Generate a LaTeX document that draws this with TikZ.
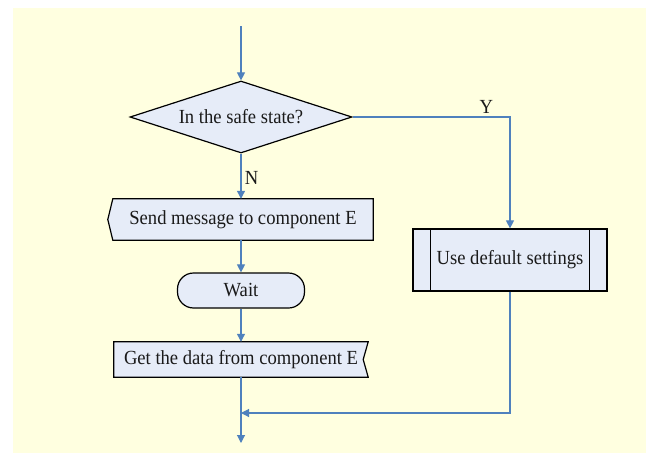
\documentclass[tikz,border=0pt]{standalone}
\usepackage{fontspec}
\setmainfont{Liberation Serif}[FakeStretch=0.93]
\usetikzlibrary{arrows.meta,shapes.geometric}
\pgfdeclarelayer{back}
\pgfdeclarelayer{shapes}
\pgfsetlayers{back,shapes,main}

\definecolor{paper}{HTML}{FFFFE0}
\definecolor{boxfill}{HTML}{E6ECF8}
\definecolor{flow}{HTML}{4F81BD}
\definecolor{ink}{HTML}{1A1A1A}

\tikzset{
  label text/.style={font=\fontsize{20}{24}\selectfont, text=ink},
  outline/.style={draw=black, line width=1.2pt, fill=boxfill, line join=miter},
  flowline/.style={draw=flow, line width=1.1pt},
  arr/.style={flowline, -{Triangle[length=8pt,width=8pt]}},
}

\begin{document}
\begin{tikzpicture}[x=1pt,y=-1pt]
\useasboundingbox (0,0) rectangle (646,453);
\begin{pgfonlayer}{back}
  \fill[paper] (13,8) rectangle (646,453);
\end{pgfonlayer}

% decision
\node[diamond, outline, label text, inner sep=0pt, shape aspect=3,
      minimum width=222pt, minimum height=72pt] (dec) at (241,117) {In the safe state?};

% left branch
\node[label text, inner sep=0pt, minimum width=260pt, minimum height=41pt]
  (send) at (243,219.5) {Send message to component E};
\node[rectangle, rounded corners=16pt, outline, label text, inner sep=0pt,
      minimum width=127pt, minimum height=35pt] (wait) at (241,290.5) {Wait};
\node[label text, inner sep=0pt, minimum width=254pt, minimum height=35pt]
  (get) at (241,359.5) {Get the data from component E};

% right branch: predefined process
\node[outline, label text, inner sep=0pt, minimum width=194pt, minimum height=62pt]
  (def) at (510,260) {Use default settings};
\draw[line width=1.2pt] ([xshift=18pt]def.north west) -- ([xshift=18pt]def.south west);
\draw[line width=1.2pt] ([xshift=-18pt]def.north east) -- ([xshift=-18pt]def.south east);

% send / receive outlines
\begin{pgfonlayer}{shapes}
  \filldraw[outline] (send.north west) -- (send.north east) -- (send.south east)
    -- (send.south west) -- ([xshift=-5pt]send.west) -- cycle;
  \filldraw[outline] (get.north west) -- (get.north east) -- ([xshift=-5pt]get.east)
    -- (get.south east) -- (get.south west) -- cycle;
\end{pgfonlayer}

% connectors
\coordinate (top) at (241,26);
\coordinate (join) at (241,413);
\coordinate (out) at (241,443);

\draw[arr] (top) -- (dec.north);
\draw[arr] (dec.east) -| node[label text, pos=0.425, above, inner sep=3pt] {Y} (def.north);
\draw[arr] (dec.south) -- node[label text, pos=0.54, right] {N} (dec.south |- send.north);
\draw[arr] (dec.south |- send.south) -- (wait.north);
\draw[arr] (wait.south) -- (get.north);
\draw[arr] (get.south) -- (out);
\draw[arr] (def.south) |- (join);
\end{tikzpicture}
\end{document}
